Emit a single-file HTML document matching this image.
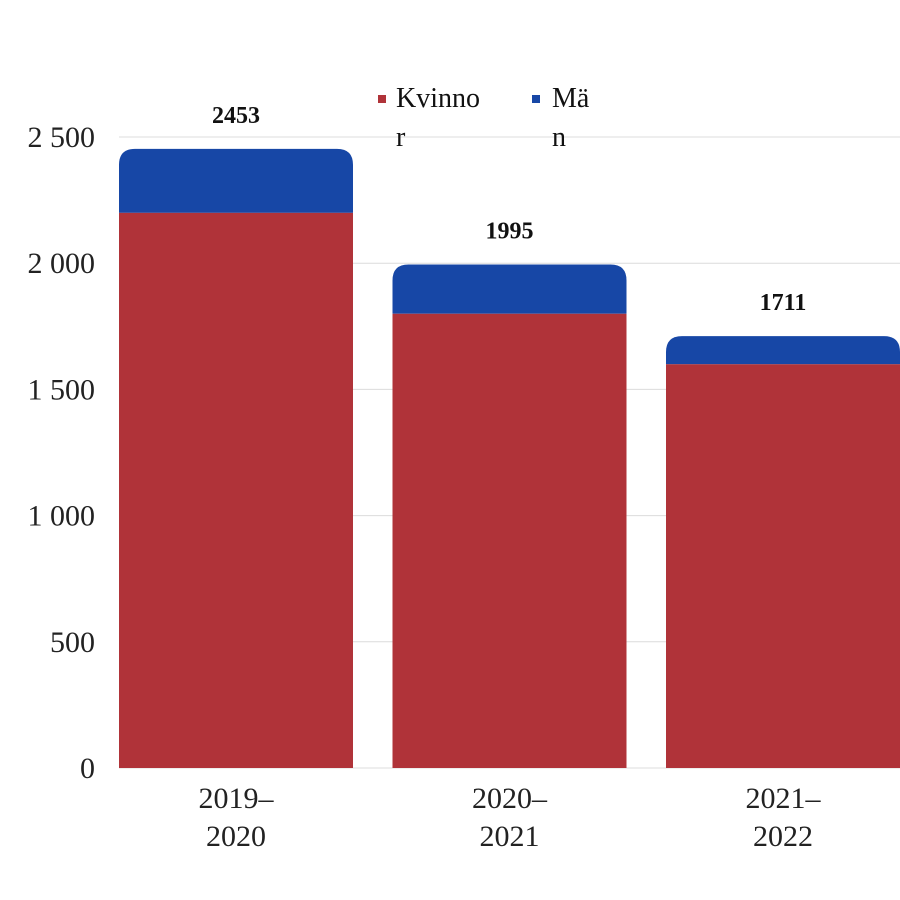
<!DOCTYPE html>
<html><head><meta charset="utf-8"><style>
body{margin:0;background:#fff;}
svg{display:block;font-family:"Liberation Serif",serif;}
</style></head><body>
<svg id="chart" width="900" height="900" viewBox="0 0 900 900">
<g id="grid"></g>
<g id="yaxis"></g>
<g id="bars"></g>
<g id="xaxis"></g>
<g>
<rect x="378" y="95" width="8" height="8" fill="#b03339"/>
<text x="396" y="107" font-size="28" fill="#111">Kvinno</text>
<text x="396" y="146" font-size="28" fill="#111">r</text>
<rect x="532" y="95" width="8" height="8" fill="#1747a6"/>
<text x="552" y="107" font-size="28" fill="#111">Mä</text>
<text x="552" y="146" font-size="28" fill="#111">n</text>
</g>
</svg>
<script>
const categories=[["2019–","2020"],["2020–","2021"],["2021–","2022"]];
const kvinnor=[2200,1800,1600];
const man=[253,195,111];
const totals=[2453,1995,1711];
const yTicks=[0,500,1000,1500,2000,2500];
const yTickLabels=["0","500","1 000","1 500","2 000","2 500"];
const NS="http://www.w3.org/2000/svg";
const y0=768,pxPer=631/2500;
const y=v=>y0-v*pxPer;
const bx=i=>119+i*273.5,bw=234;
function mk(t,a,p){const e=document.createElementNS(NS,t);for(const k in a)e.setAttribute(k,a[k]);p.appendChild(e);return e;}
const grid=document.getElementById('grid'),ya=document.getElementById('yaxis'),bars=document.getElementById('bars'),xa=document.getElementById('xaxis');
yTicks.forEach((v,i)=>{
 const l=mk('line',{x1:119,x2:900,y1:y(v),y2:y(v),stroke:'#dcdcdc','stroke-width':1},grid);
 
 
 const t=mk('text',{x:95,y:y(v)+10,'text-anchor':'end','font-size':30,fill:'#222'},ya);
 t.textContent=yTickLabels[i];
 
 
});
categories.forEach((c,i)=>{
 const x=bx(i),r=16;
 const rr=mk('rect',{x:x,y:y(kvinnor[i]),width:bw,height:y0-y(kvinnor[i]),fill:'#b03339'},bars);
 
 
 const top=y(kvinnor[i]+man[i]),bot=y(kvinnor[i]);
 const p=mk('path',{d:`M${x},${bot} L${x},${top+r} Q${x},${top} ${x+r},${top} L${x+bw-r},${top} Q${x+bw},${top} ${x+bw},${top+r} L${x+bw},${bot} Z`,fill:'#1747a6'},bars);
 
 
 const vl=mk('text',{x:x+bw/2,y:top-26,'text-anchor':'middle','font-size':24,'font-weight':'bold',fill:'#111'},bars);
 vl.textContent=totals[i];
 
 
 c.forEach((s,j)=>{
  const t=mk('text',{x:x+bw/2,y:808+j*38,'text-anchor':'middle','font-size':30,fill:'#222'},xa);
  t.textContent=s;
  
  
 });
});
</script>
</body></html>
